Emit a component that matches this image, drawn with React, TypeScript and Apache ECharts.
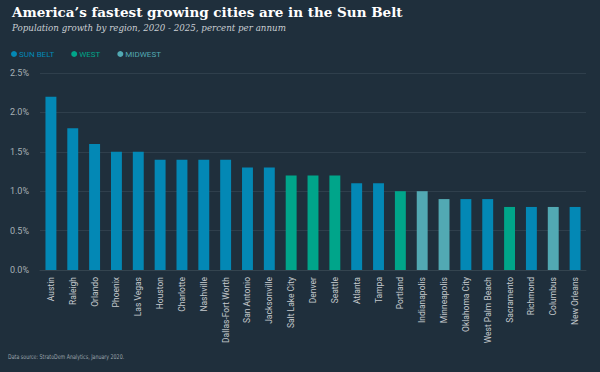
import React, { useEffect, useRef } from "react";
import * as echarts from "echarts";

const cities = [
  "Austin", "Raleigh", "Orlando", "Phoenix", "Las Vegas", "Houston", "Charlotte", "Nashville",
  "Dallas-Fort Worth", "San Antonio", "Jacksonville", "Salt Lake City", "Denver", "Seattle",
  "Atlanta", "Tampa", "Portland", "Indianapolis", "Minneapolis", "Oklahoma City",
  "West Palm Beach", "Sacramento", "Richmond", "Columbus", "New Orleans",
];
const growth = [
  2.2, 1.8, 1.6, 1.5, 1.5, 1.4, 1.4, 1.4, 1.4, 1.3, 1.3, 1.2, 1.2, 1.2,
  1.1, 1.1, 1.0, 1.0, 0.9, 0.9, 0.9, 0.8, 0.8, 0.8, 0.8,
];
const regions = [
  "SUN BELT", "SUN BELT", "SUN BELT", "SUN BELT", "SUN BELT", "SUN BELT", "SUN BELT", "SUN BELT",
  "SUN BELT", "SUN BELT", "SUN BELT", "WEST", "WEST", "WEST",
  "SUN BELT", "SUN BELT", "WEST", "MIDWEST", "MIDWEST", "SUN BELT",
  "SUN BELT", "WEST", "SUN BELT", "MIDWEST", "SUN BELT",
];
const regionNames = ["SUN BELT", "WEST", "MIDWEST"];
const regionColors = ["#0388b5", "#00a58a", "#52a9b3"];
const yTicks = [0, 0.5, 1.0, 1.5, 2.0, 2.5];

export default function App() {
  const ref = useRef<HTMLDivElement>(null);
  useEffect(() => {
    const chart = echarts.init(ref.current!, null, { renderer: "svg" });
    const series = regionNames.map((r, i) => ({
      name: r,
      type: "bar",
      stack: "all",
      barWidth: "50%",
      itemStyle: { color: regionColors[i] },
      data: growth.map((v, k) => (regions[k] === r ? v : "-")),
    }));
    chart.setOption({
      animation: false,
      backgroundColor: "#1f2f3c",
      title: {
        text: "America\u2019s fastest growing cities are in the Sun Belt",
        subtext: "Population growth by region, 2020 - 2025, percent per annum",
        left: 7,
        top: 0,
        itemGap: 4,
        textStyle: {
          fontFamily: "DejaVu Serif",
          fontWeight: "bold",
          fontSize: 13.5,
          color: "#ffffff",
        },
        subtextStyle: {
          fontFamily: "DejaVu Serif",
          fontStyle: "italic",
          fontSize: 8.7,
          color: "#c9ced3",
        },
      },
      legend: {
        left: 6,
        top: 45,
        icon: "circle",
        itemWidth: 6,
        itemHeight: 6,
        itemGap: 17,
        data: regionNames.map((r, i) => ({
          name: r,
          textStyle: { color: regionColors[i] },
        })),
        textStyle: { fontFamily: "Roboto", fontSize: 8, padding: [0, 0, 0, -3] },
      },
      grid: { left: 40, right: 14, top: 73, bottom: 102 },
      xAxis: {
        type: "category",
        data: cities,
        axisLine: { lineStyle: { color: "#34444f" } },
        axisTick: { show: false },
        axisLabel: {
          rotate: 90,
          interval: 0,
          color: "#c5cace",
          fontFamily: "Roboto",
          fontSize: 8.5,
          margin: 7,
        },
      },
      yAxis: {
        type: "value",
        min: 0,
        max: 2.5,
        interval: 0.5,
        axisLine: { show: false },
        axisTick: { show: false },
        splitLine: { lineStyle: { color: "#2f3f4c" } },
        axisLabel: {
          color: "#a7afb6",
          fontFamily: "Roboto",
          fontSize: 9,
          margin: 11,
          formatter: (v: number) => (yTicks.includes(v) ? v.toFixed(1) + "%" : ""),
        },
      },
      series,
      graphic: [
        {
          type: "text",
          x: 8,
          y: 353,
          scaleX: 0.81,
          style: {
            text: "Data source: StratoDem Analytics, January 2020.",
            fill: "#9aa3aa",
            font: "6.5px 'DejaVu Sans Condensed', 'Liberation Sans Narrow', 'Roboto'",
          },
        },
      ],
    });
    return () => chart.dispose();
  }, []);
  return <div ref={ref} style={{ width: 600, height: 372, position: "absolute", left: 0, top: 0 }} />;
}
